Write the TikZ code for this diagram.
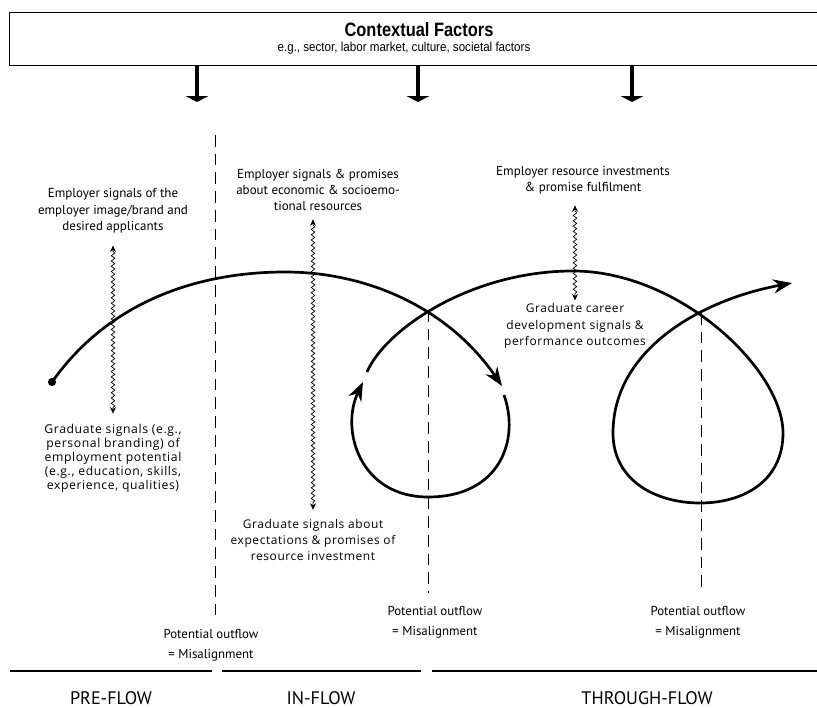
\documentclass[tikz,border=0pt]{standalone}
\usepackage{fontspec}
\setmainfont{PT Sans}
\newfontfamily\gradfont{Open Sans}[LetterSpace=5]
\newfontfamily\ttlfont{Liberation Sans}[FakeStretch=0.85]
\newfontfamily\subfont{Liberation Sans}[FakeStretch=0.9]
\usetikzlibrary{arrows.meta,decorations.pathmorphing,calc}
\begin{document}
\begin{tikzpicture}[x=0.03cm,y=-0.03cm,
  emp/.style={align=center,font=\fontsize{11.1}{14}\selectfont,inner sep=0pt},
  grd/.style={align=center,font=\gradfont\fontsize{10.4}{12}\selectfont,inner sep=0pt},
  grdb/.style={align=center,font=\gradfont\fontsize{10.2}{14}\selectfont,inner sep=0pt},
  outfl/.style={align=center,font=\fontsize{11}{17}\selectfont,inner sep=0pt},
  phase/.style={font=\fontsize{15.5}{17}\selectfont,inner sep=0pt,anchor=base},
  flow/.style={line width=2.3pt},
  flowarrow/.style={flow,-{Stealth[length=16pt,width=12pt]}},
  sep/.style={line width=0.8pt,dash pattern=on 10pt off 6pt},
  wavy/.style={decorate,decoration={snake,amplitude=1.5pt,segment length=4.5pt,pre length=5pt,post length=5pt},line width=0.6pt,{Stealth[length=5.5pt,width=5pt]}-{Stealth[length=5.5pt,width=5pt]}},
  ctxarrow/.style={line width=4.2pt,-{Triangle[width=19pt,length=5pt]}},
  base/.style={line width=1.6pt}
]
\useasboundingbox (0,0) rectangle (817,708);
\clip (0,0) rectangle (817,708);

% contextual factors box
\node[draw,line width=1.2pt,anchor=north west,minimum width=24.7cm,minimum height=1.59cm,inner sep=0pt] (ctx) at (9,12) {};
\node[font=\ttlfont\bfseries\fontsize{16.5}{18}\selectfont,inner sep=0pt] (ctxt) at (419,30) {Contextual Factors};
\node[font=\subfont\fontsize{11}{12}\selectfont,inner sep=0pt] (ctxs) at (404,48) {e.g., sector, labor market, culture, societal factors};
\coordinate (a1) at (197,102);
\coordinate (a2) at (418,102);
\coordinate (a3) at (632,102);
\draw[ctxarrow] (ctx.south -| a1) -- (a1);
\draw[ctxarrow] (ctx.south -| a2) -- (a2);
\draw[ctxarrow] (ctx.south -| a3) -- (a3);

% dashed separators
\coordinate (d1t) at (215,135);
\coordinate (d1b) at (215,617);
\coordinate (d2t) at (428,310);
\coordinate (d2b) at (428,593);
\coordinate (d3t) at (701,313);
\coordinate (d3b) at (701,593);
\draw[sep] (d1t) -- (d1b);
\draw[sep] (d2t) -- (d2b);
\draw[sep] (d3t) -- (d3b);

% texts
\node[emp] (emp1) at (113,211) {Employer signals of the\\employer image/brand and\\desired applicants};
\node[emp] (emp2) at (318,190) {Employer signals \& promises\\about economic \& socioemo-\\tional resources};
\node[emp] (emp3) at (583,180) {Employer resource investments\\\& promise fulfilment};
\node[grdb] (grad3) at (575,326) {Graduate career\\development signals \&\\performance outcomes};
\node[grd] (grad1) at (113,458) {Graduate signals (e.g.,\\personal branding) of\\employment potential\\(e.g., education, skills,\\experience, qualities)};
\node[grdb] (grad2) at (313,540) {Graduate signals about\\expectations \& promises of\\resource investment};

\node[outfl] (of1) at (211,645) {Potential outflow\\= Misalignment};
\node[outfl] (of2) at (435,622) {Potential outflow\\= Misalignment};
\node[outfl] (of3) at (698,622) {Potential outflow\\= Misalignment};

% wavy signal arrows
\draw[wavy] ($(emp1.south)+(0,12)$) -- ($(grad1.north)+(0,-10)$);
\draw[wavy] ($(emp2.south -| grad2.north)+(0,8)$) -- ($(grad2.north)+(0,-9)$);
\draw[wavy] ($(grad3.north |- emp3.south)+(0,11)$) -- ($(grad3.north)+(0,-3)$);

% main flow curves
\node[circle,fill,inner sep=0pt,minimum size=7pt] (start) at (52,382) {};
\draw[flowarrow] (start.center) .. controls (110,300) and (200,272) .. (285,272)
  .. controls (370,272) and (450,310) .. (502,386);
\draw[flowarrow] (504,395) .. controls (520,440) and (500,497) .. (428,497)
  .. controls (360,497) and (340,430) .. (363,382);
\draw[flowarrow] (367,372) .. controls (385,330) and (470,271) .. (573,271)
  .. controls (680,271) and (783,370) .. (783,433)
  .. controls (783,480) and (745,503) .. (700,503)
  .. controls (655,503) and (613,480) .. (613,433)
  .. controls (613,350) and (700,300) .. (792,283);

% phase baseline
\coordinate (b0) at (10,671);
\coordinate (b1) at (212,671);
\coordinate (b2) at (222,671);
\coordinate (b3) at (421,671);
\coordinate (b4) at (432,671);
\coordinate (b5) at (825,671);
\draw[base] (b0) -- (b1);
\draw[base] (b2) -- (b3);
\draw[base] (b4) -- (b5);
\node[phase] (pre) at (111,704) {PRE-FLOW};
\node[phase] (in) at (321,704) {IN-FLOW};
\node[phase] (thr) at (647,704) {THROUGH-FLOW};
\end{tikzpicture}
\end{document}
